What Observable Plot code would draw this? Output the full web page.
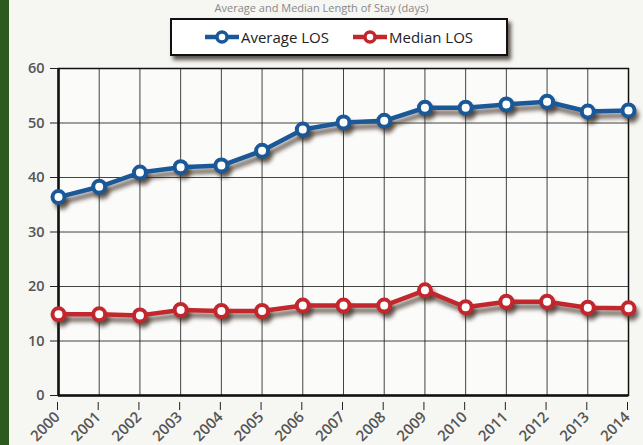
<!DOCTYPE html>
<html>
<head>
<meta charset="utf-8">
<script src="https://cdn.jsdelivr.net/npm/d3@7"></script>
<script src="https://cdn.jsdelivr.net/npm/@observablehq/plot@0.6"></script>
<style>
  html, body { margin: 0; padding: 0; background: #f6f6f3; }
  #wrap { position: relative; width: 643px; height: 445px; overflow: hidden; background: #f6f6f3; }
  #bar { position: absolute; left: 0; top: 0; width: 9px; height: 445px; background: #2d5a1f; }
  #title { position: absolute; left: 0; top: 1px; width: 643px; text-align: center;
           font: 11px "Open Sans", sans-serif; color: #888; line-height: 13px; }
  #legend { position: absolute; left: 170px; top: 18px; width: 338px; height: 38px;
            border: 2px solid #111; background: #fff; box-sizing: border-box;
            box-shadow: 3px 4px 4px rgba(40,30,20,0.75);
            display: flex; align-items: center; justify-content: center; gap: 24px;
            font: 15px "Open Sans", sans-serif; color: #222; }
  .item { display: flex; align-items: center; gap: 2px; }
  #chart { position: absolute; left: 0; top: 0; }
</style>
</head>
<body>
<div id="wrap">
  <div id="bar"></div>
  <div id="title">Average and Median Length of Stay (days)</div>
  <div id="chart"></div>
  <div id="legend"></div>
</div>
<script>
// Length of stay by year
const years = [2000, 2001, 2002, 2003, 2004, 2005, 2006, 2007, 2008, 2009, 2010, 2011, 2012, 2013, 2014];
const averageLOS = [36.4, 38.3, 40.9, 41.9, 42.2, 44.9, 48.8, 50.1, 50.4, 52.8, 52.8, 53.4, 53.9, 52.1, 52.3];
const medianLOS = [14.9, 14.9, 14.7, 15.7, 15.5, 15.5, 16.5, 16.5, 16.5, 19.3, 16.2, 17.2, 17.2, 16.1, 16.0];
const seriesNames = ["Average LOS", "Median LOS"];
const seriesColors = ["#1b5898", "#c1272d"];
const yTicks = [0, 10, 20, 30, 40, 50, 60];

const rows = [];
years.forEach((y, i) => {
  rows.push({year: y, value: averageLOS[i], series: seriesNames[0]});
  rows.push({year: y, value: medianLOS[i], series: seriesNames[1]});
});

const color = {domain: seriesNames, range: seriesColors};

const chart = Plot.plot({
  width: 643,
  height: 445,
  marginTop: 68,
  marginBottom: 50,
  marginLeft: 58,
  marginRight: 15,
  style: {background: "transparent", fontFamily: "Open Sans, sans-serif"},
  x: {domain: [2000, 2014], ticks: years, tickFormat: d => String(d), label: null},
  y: {domain: [0, 60], ticks: yTicks, label: null},
  color,
  marks: [
    Plot.frame({fill: "#fbfbfa"}),
    Plot.gridX(years, {stroke: "#222", strokeOpacity: 0.85, strokeWidth: 1}),
    Plot.gridY(yTicks, {stroke: "#222", strokeOpacity: 0.85, strokeWidth: 1}),
    Plot.frame({stroke: "#111", strokeWidth: 1.5}),
    Plot.ruleX([2000], {stroke: "#111", strokeWidth: 2.5}),
    Plot.ruleY([0], {stroke: "#111", strokeWidth: 2.5}),
    Plot.axisX({ticks: years, tickFormat: d => String(d), tickRotate: -45, tickSize: 8,
                tickPadding: 4, fontSize: 15, fill: "#555", stroke: "#222", label: null,
                dx: -1, dy: 7}),
    Plot.axisY({ticks: yTicks, tickSize: 8, tickPadding: 6, fontSize: 14.5, fill: "#555",
                stroke: "#222", label: null}),
    // soft drop shadows beneath the series
    Plot.line(rows, {x: "year", y: "value", z: "series", stroke: "#3b2a1e", strokeWidth: 5,
                     strokeOpacity: 0.7, dx: 3, dy: 5}),
    Plot.dot(rows, {x: "year", y: "value", fill: "#3b2a1e", r: 7.5, fillOpacity: 0.7, dx: 3, dy: 5}),
    Plot.line(rows, {x: "year", y: "value", z: "series", stroke: "series", strokeWidth: 4.5}),
    Plot.dot(rows, {x: "year", y: "value", stroke: "series", fill: "white", r: 6, strokeWidth: 4})
  ]
});

// blur the shadow marks
const lines = chart.querySelectorAll('g[aria-label="line"]');
const dots = chart.querySelectorAll('g[aria-label="dot"]');
[lines[0], dots[0]].forEach(g => { if (g) g.style.filter = "blur(2px)"; });
chart.querySelectorAll('g[aria-label="x-axis tick label"] text, g[aria-label="y-axis tick label"] text')
  .forEach(t => t.style.fontWeight = "600");
document.getElementById("chart").appendChild(chart);

// legend with line+marker swatches
const legend = d3.select("#legend");
seriesNames.forEach((name, i) => {
  const item = legend.append("div").attr("class", "item");
  const sw = item.append("svg").attr("width", 34).attr("height", 16);
  sw.append("line").attr("x1", 0).attr("x2", 34).attr("y1", 8).attr("y2", 8)
    .attr("stroke", seriesColors[i]).attr("stroke-width", 4.5);
  sw.append("circle").attr("cx", 17).attr("cy", 8).attr("r", 5)
    .attr("fill", "white").attr("stroke", seriesColors[i]).attr("stroke-width", 3.5);
  item.append("span").text(name);
});
</script>
</body>
</html>
